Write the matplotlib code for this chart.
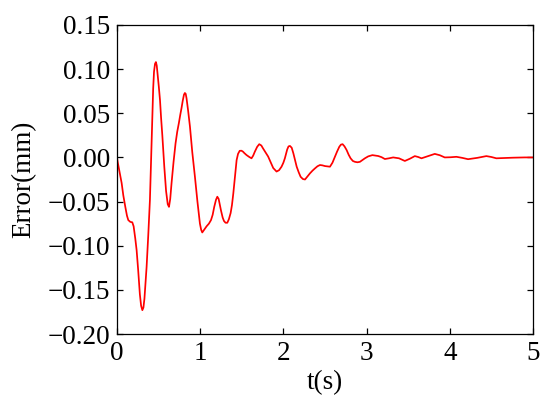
import matplotlib.pyplot as plt

plt.rcParams['font.family'] = ['Liberation Serif', 'DejaVu Serif']

# 误差曲线
t = [0.0, 0.01, 0.03, 0.056, 0.076, 0.10, 0.12, 0.136, 0.16, 0.184, 0.20, 0.22, 0.236,
     0.255, 0.275, 0.29, 0.305, 0.318, 0.33, 0.345, 0.356, 0.376, 0.396, 0.41, 0.424,
     0.435, 0.445, 0.457, 0.468, 0.478, 0.49, 0.503, 0.517, 0.53, 0.545, 0.569, 0.59,
     0.61, 0.625, 0.64, 0.656, 0.68, 0.704, 0.724, 0.744, 0.762, 0.776, 0.79, 0.805,
     0.816, 0.826, 0.836, 0.855, 0.877, 0.905, 0.937, 0.967, 0.997, 1.012, 1.025, 1.04,
     1.077, 1.105, 1.13, 1.15, 1.169, 1.19, 1.206, 1.222, 1.25, 1.27, 1.286, 1.305,
     1.326, 1.345, 1.366, 1.382, 1.398, 1.418, 1.438, 1.455, 1.475, 1.497, 1.515, 1.53,
     1.557, 1.59, 1.617, 1.637, 1.657, 1.685, 1.71, 1.735, 1.757, 1.787, 1.817, 1.848,
     1.878, 1.918, 1.948, 1.978, 2.0, 2.018, 2.046, 2.062, 2.079, 2.1, 2.12, 2.14, 2.16,
     2.185, 2.207, 2.235, 2.26, 2.29, 2.32, 2.35, 2.38, 2.41, 2.44, 2.47, 2.50, 2.53,
     2.56, 2.59, 2.62, 2.645, 2.672, 2.692, 2.712, 2.735, 2.76, 2.785, 2.808, 2.835,
     2.86, 2.89, 2.92, 2.95, 2.98, 3.02, 3.07, 3.14, 3.18, 3.22, 3.27, 3.32, 3.39, 3.46,
     3.52, 3.58, 3.62, 3.66, 3.74, 3.82, 3.88, 3.94, 4.01, 4.08, 4.15, 4.22, 4.33, 4.44,
     4.5, 4.56, 4.66, 4.76, 4.9, 5.0]
err = [0.0, -0.006, -0.016, -0.029, -0.043, -0.056, -0.066, -0.071, -0.073, -0.0735,
       -0.078, -0.092, -0.105, -0.128, -0.155, -0.168, -0.173, -0.170, -0.160, -0.140,
       -0.124, -0.088, -0.048, -0.002, 0.046, 0.078, 0.097, 0.106, 0.108, 0.104, 0.093,
       0.080, 0.065, 0.045, 0.025, -0.011, -0.038, -0.053, -0.056, -0.047, -0.029, -0.005,
       0.016, 0.029, 0.039, 0.049, 0.056, 0.064, 0.071, 0.073, 0.072, 0.067, 0.053, 0.035,
       0.006, -0.022, -0.050, -0.075, -0.082, -0.085, -0.083, -0.078, -0.075, -0.071,
       -0.065, -0.056, -0.048, -0.0445, -0.047, -0.060, -0.068, -0.072, -0.074, -0.074,
       -0.070, -0.063, -0.054, -0.041, -0.022, -0.003, 0.004, 0.0075, 0.0076, 0.0065,
       0.005, 0.0027, 0.0005, -0.001, 0.002, 0.0065, 0.012, 0.015, 0.0135, 0.010, 0.0055,
       0.001, -0.0055, -0.012, -0.016, -0.0145, -0.0105, -0.006, -0.001, 0.009, 0.0125,
       0.013, 0.011, 0.0047, -0.003, -0.0105, -0.017, -0.0219, -0.0245, -0.025, -0.0215,
       -0.018, -0.015, -0.0124, -0.010, -0.0086, -0.009, -0.0098, -0.0102, -0.0105,
       -0.006, 0.001, 0.0065, 0.012, 0.0145, 0.015, 0.0125, 0.0084, 0.003, -0.001,
       -0.004, -0.005, -0.0055, -0.005, -0.003, -0.001, 0.0012, 0.0026, 0.0016, 0.0003,
       -0.0018, -0.001, 0.0, -0.001, -0.004, -0.0015, 0.0015, 0.0005, -0.001, 0.0015,
       0.004, 0.0025, 0.0, 0.0002, 0.0007, -0.0005, -0.002, -0.0005, 0.0015, 0.0005,
       -0.001, -0.0006, -0.0003, 0.0, 0.0]

xticks = [0, 1, 2, 3, 4, 5]
yticks = [-0.20, -0.15, -0.10, -0.05, 0.00, 0.05, 0.10, 0.15]

fig = plt.figure(figsize=(5.5, 4.03), dpi=100)
ax = fig.add_axes([0.2127, 0.1712, 0.7563, 0.7668])
ax.plot(t, err, color='red', linewidth=1.25)

ax.set_xlim(0, 5)
ax.set_ylim(-0.20, 0.15)
ax.set_xticks(xticks)
ax.set_yticks(yticks)
ax.set_yticklabels(['%.2f' % v if v >= 0 else '\u2212%.2f' % -v for v in yticks])
ax.tick_params(direction='in', top=True, right=True, length=4.5, width=0.9,
               labelsize=19.5, pad=5)
for s in ax.spines.values():
    s.set_linewidth(0.9)

ax.set_xlabel('t(s)', fontsize=19.5, labelpad=3)
ax.set_ylabel('Error(mm)', fontsize=19.5, labelpad=8)

fig.savefig('out.png', dpi=100)
